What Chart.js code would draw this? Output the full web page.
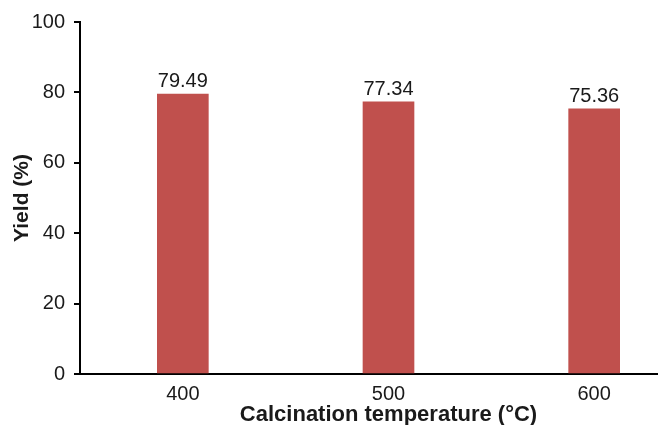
<!DOCTYPE html>
<html>
<head>
<meta charset="utf-8">
<script src="https://cdn.jsdelivr.net/npm/chart.js@4/dist/chart.umd.min.js"></script>
<style>
  html, body { margin: 0; padding: 0; background: #fff; overflow: hidden; }
  #wrap { width: 658px; height: 425px; overflow: hidden; position: relative; }
  canvas { display: block; }
</style>
</head>
<body>
<div id="wrap"><canvas id="c" width="700" height="425"></canvas></div>
<script>
const categories = ['400', '500', '600'];
const yieldValues = [79.49, 77.34, 75.36];
const yTicks = [0, 20, 40, 60, 80, 100];
const xTitle = 'Calcination temperature (°C)';
const yTitle = 'Yield (%)';

const FONT = "'Liberation Sans', Arial, sans-serif";
const TEXT = '#1a1a1a';

const valueLabels = {
  id: 'valueLabels',
  afterDatasetsDraw(chart) {
    const ctx = chart.ctx;
    const meta = chart.getDatasetMeta(0);
    ctx.save();
    ctx.font = '20px ' + FONT;
    ctx.fillStyle = TEXT;
    ctx.textAlign = 'center';
    ctx.textBaseline = 'alphabetic';
    meta.data.forEach((bar, i) => {
      ctx.fillText(yieldValues[i].toFixed(2), bar.x, bar.y - 7);
    });
    ctx.restore();
  }
};

new Chart(document.getElementById('c'), {
  type: 'bar',
  data: {
    labels: categories,
    datasets: [{
      data: yieldValues,
      backgroundColor: '#C0504D',
      borderWidth: 0,
      barThickness: 51
    }]
  },
  options: {
    responsive: false,
    animation: false,
    devicePixelRatio: 1,
    layout: { padding: { top: 22, right: 3, bottom: 0, left: 0 } },
    plugins: { legend: { display: false }, tooltip: { enabled: false } },
    scales: {
      x: {
        offset: true,
        grid: { display: false, drawTicks: false },
        border: { display: true, color: '#000', width: 2 },
        ticks: { color: TEXT, font: { family: FONT, size: 20 }, padding: 8 },
        title: {
          display: true, text: xTitle, color: TEXT,
          font: { family: FONT, size: 22, weight: 'bold', lineHeight: 0.8 },
          padding: { top: 0, bottom: 1 }
        },
        afterFit(scale) { scale.height = 51; }
      },
      y: {
        min: 0, max: 100,
        afterBuildTicks(scale) { scale.ticks = yTicks.map(v => ({ value: v })); },
        grid: { display: true, drawOnChartArea: false, drawTicks: true, tickLength: 6, color: '#000', lineWidth: 2 },
        border: { display: true, color: '#000', width: 2 },
        ticks: { color: TEXT, font: { family: FONT, size: 20 }, padding: 9 },
        title: {
          display: true, text: yTitle, color: TEXT,
          font: { family: FONT, size: 21, weight: 'bold', lineHeight: 1 },
          padding: { top: 12, bottom: 0 }
        },
        afterFit(scale) { scale.width = 80; }
      }
    }
  },
  plugins: [valueLabels]
});
</script>
</body>
</html>
